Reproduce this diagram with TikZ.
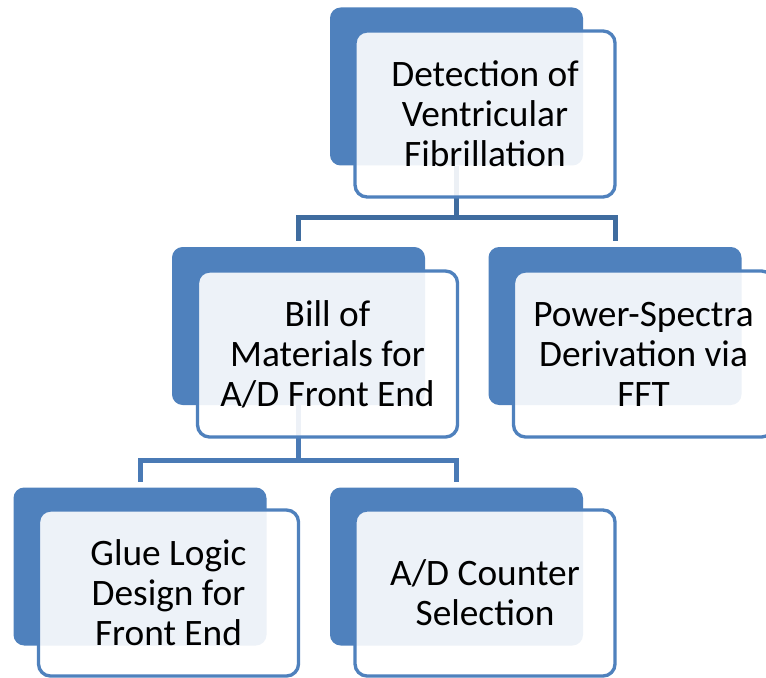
\documentclass[tikz,border=0pt]{standalone}
\usepackage{fontspec}
\setmainfont{Carlito}
\usepackage{tikz}
\usetikzlibrary{positioning, calc}
\usepackage{xcolor}
\definecolor{accent}{HTML}{4F81BD}
\definecolor{linkdark}{HTML}{3F6C9F}
\definecolor{linklight}{HTML}{4A7AB5}

\begin{document}
\begin{tikzpicture}[x=0.75pt, y=-0.75pt,
    backbox/.style={rectangle, rounded corners=8pt, fill=accent, draw=none,
      minimum width=189.75pt, minimum height=118.5pt, inner sep=0pt},
    frontbox/.style={rectangle, rounded corners=9pt, fill=white, fill opacity=0.9,
      text opacity=1, draw=accent, draw opacity=1, line width=2.5pt,
      minimum width=195pt, minimum height=124.5pt, inner sep=0pt,
      align=center, font=\fontsize{28}{30}\selectfont},
    link/.style={line width=3.75pt, shorten >=4pt}]
      \useasboundingbox (0, 0) rectangle (766, 677);

      \node[backbox] (vfback) at (456.5, 86.5) {};
      \node[backbox] (bomback) at (298.5, 326) {};
      \node[backbox] (fftback) at (615, 326) {};
      \node[backbox] (glueback) at (140, 566.5) {};
      \node[backbox] (adcback) at (456.5, 566.5) {};

      \draw[link, linkdark] (vfback.south) -- ++(0, 52) -| (bomback.north);
      \draw[link, linkdark] (vfback.south) -- ++(0, 52) -| (fftback.north);
      \draw[link, linklight] (bomback.south) -- ++(0, 55) -| (glueback.north);
      \draw[link, linklight] (bomback.south) -- ++(0, 55) -| (adcback.north);

      \node[frontbox] (vf) at (485, 114) {Detection of\\Ventricular\\Fibrillation};
      \node[frontbox] (bom) at (327.5, 354) {Bill of\\Materials for\\A/D Front End};
      \node[frontbox] (fft) at (643.5, 354) {Power-Spectra\\Derivation via\\FFT};
      \node[frontbox] (glue) at (168.5, 593) {Glue Logic\\Design for\\Front End};
      \node[frontbox] (adc) at (485, 593) {A/D Counter\\Selection};

    \end{tikzpicture}
\end{document}
